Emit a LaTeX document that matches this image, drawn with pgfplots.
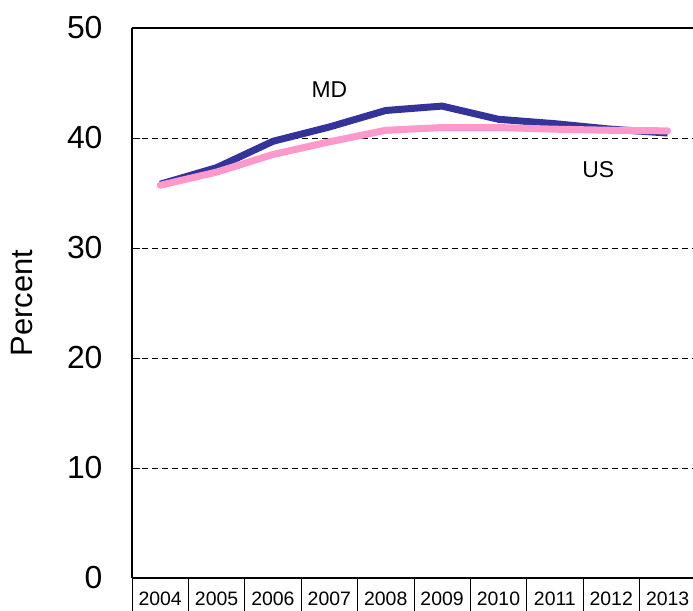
\documentclass[border=0pt]{standalone}
\usepackage{fontspec}
\setmainfont{Liberation Sans}
\usepackage{pgfplots}
\pgfplotsset{compat=1.18}
\definecolor{mdblue}{HTML}{333399}
\definecolor{uspink}{HTML}{FF99CC}

\begin{document}
\begin{tikzpicture}
\begin{axis}[
  scale only axis,
  width=561bp, height=550bp,
  xmin=-0.5, xmax=9.45, ymin=0, ymax=50,
  clip=false,
  axis lines=left,
  axis line style={line width=2.4bp, -},
  xtick={0,...,9},
  xticklabels={2004,2005,2006,2007,2008,2009,2010,2011,2012,2013},
  xtick style={draw=none},
  xticklabel style={draw, line width=0.7bp, minimum width=56.4bp,
    minimum height=40bp, inner sep=0pt, anchor=north,
    font=\fontsize{19.5}{21}\selectfont},
  ytick={0,10,...,50},
  ytick pos=left,
  tick align=inside,
  major tick length=8bp,
  ytick style={black, line width=0.7bp},
  yticklabel style={font=\fontsize{32}{36}\selectfont, xshift=-26bp},
  /pgf/number format/assume math mode=true,
  ymajorgrids,
  grid style={black, line width=0.7bp, dash pattern=on 6bp off 4bp},
  ylabel={Percent},
  ylabel style={font=\fontsize{31}{34}\selectfont, at={(axis description cs:0,0.5)},
    anchor=center, yshift=110bp},
]
\addplot[mdblue, line width=7bp, line join=round] coordinates {
  (0,35.8) (1,37.3) (2,39.7) (3,41.0) (4,42.5) (5,42.9) (6,41.7) (7,41.3) (8,40.8) (9,40.45)
};
\addplot[uspink, line width=7bp, line join=round, line cap=round] coordinates {
  (0,35.7) (1,36.9) (2,38.5) (3,39.65) (4,40.7) (5,40.95) (6,40.95) (7,40.8) (8,40.7) (9,40.65)
};
\node[font=\fontsize{23}{25}\selectfont] at (axis cs:3,44.4) {MD};
\node[font=\fontsize{23}{25}\selectfont] at (axis cs:7.77,37.1) {US};
\draw[line width=2.2bp] (rel axis cs:0,1) -- (rel axis cs:1,1);
\coordinate (bl) at (rel axis cs:0,0);
\coordinate (tr) at (rel axis cs:1,1);
\end{axis}
\pgfresetboundingbox
\path[use as bounding box] ([xshift=-132bp,yshift=-33bp]bl) rectangle ([yshift=28bp]tr);
\end{tikzpicture}
\end{document}
